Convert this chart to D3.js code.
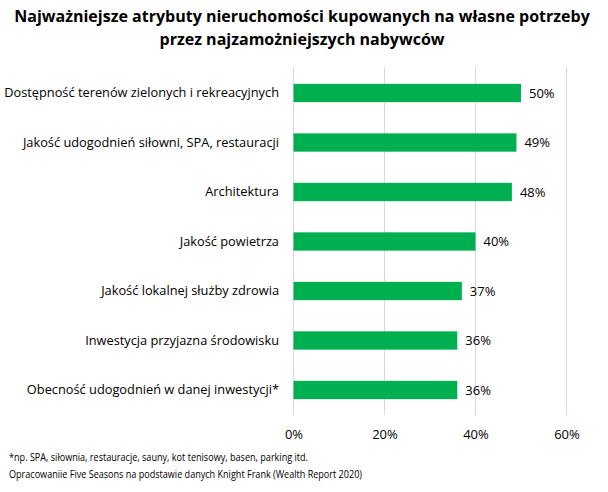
<!DOCTYPE html>
<html><head><meta charset="utf-8">
<script src="https://cdn.jsdelivr.net/npm/d3@7"></script>
<style>body{margin:0;background:#fff}svg{display:block}</style>
</head><body>
<script>
const titleLines = ["Najważniejsze atrybuty nieruchomości kupowanych na własne potrzeby", "przez najzamożniejszych nabywców"];
const categories = ["Dostępność terenów zielonych i rekreacyjnych","Jakość udogodnień siłowni, SPA, restauracji","Architektura","Jakość powietrza","Jakość lokalnej służby zdrowia","Inwestycja przyjazna środowisku","Obecność udogodnień w danej inwestycji*"];
const values = [50,49,48,40,37,36,36];
const tickValues = [0,20,40,60];
const footnotes = ["*np. SPA, siłownia, restauracje, sauny, kot tenisowy, basen, parking itd.","Opracowaniie Five Seasons na podstawie danych Knight Frank (Wealth Report 2020)"];
const footnoteWidths = [299,353];

const W=608,H=492;
const font = "'Open Sans', 'Liberation Sans', sans-serif";
const svg = d3.select("body").append("svg").attr("width",W).attr("height",H).style("font-family",font);

const x = d3.scaleLinear().domain([0,60]).range([293.5,566.5]);
const y = d3.scaleBand().domain(categories).range([68.25,414.75]).paddingInner(0.63).paddingOuter(0.315);

// title
svg.append("g").selectAll("text").data(titleLines).join("text")
  .attr("x",302).attr("y",(d,i)=>22+i*23).attr("text-anchor","middle")
  .attr("font-weight","bold").attr("font-size",16).attr("fill","#000").text(d=>d);

// gridlines
svg.append("g").selectAll("line").data(tickValues).join("line")
  .attr("x1",d=>x(d)).attr("x2",d=>x(d)).attr("y1",67).attr("y2",415)
  .attr("stroke","#d9d9d9").attr("stroke-width",1);

// bars
svg.append("g").selectAll("rect").data(values).join("rect")
  .attr("x",x(0)).attr("y",(d,i)=>y(categories[i])).attr("width",d=>x(d)-x(0)).attr("height",y.bandwidth())
  .attr("fill","#00b050");

// value labels
svg.append("g").selectAll("text").data(values).join("text")
  .attr("x",d=>x(d)+8).attr("y",(d,i)=>y(categories[i])+y.bandwidth()/2).attr("dy","0.35em")
  .attr("font-size",13).attr("fill","#000").text(d=>d+"%");

// category labels
svg.append("g").selectAll("text").data(categories).join("text")
  .attr("x",279).attr("y",d=>y(d)+y.bandwidth()/2).attr("dy","0.35em").attr("text-anchor","end")
  .attr("font-size",12.8).attr("fill","#000").text(d=>d);

// x axis
const ax = svg.append("g").attr("transform","translate(0,426)")
  .call(d3.axisBottom(x).tickValues(tickValues).tickFormat(d=>d+"%").tickSize(0).tickPadding(4));
ax.select(".domain").remove();
ax.selectAll("text").attr("font-size",13).attr("fill","#000").style("font-family",font);

// footnotes
svg.append("g").selectAll("text").data(footnotes).join("text")
  .attr("x",9).attr("y",(d,i)=>461+i*16.5).attr("font-size",10.5).attr("fill","#000")
  .attr("textLength",(d,i)=>footnoteWidths[i]).attr("lengthAdjust","spacingAndGlyphs").text(d=>d);
</script>
</body></html>
